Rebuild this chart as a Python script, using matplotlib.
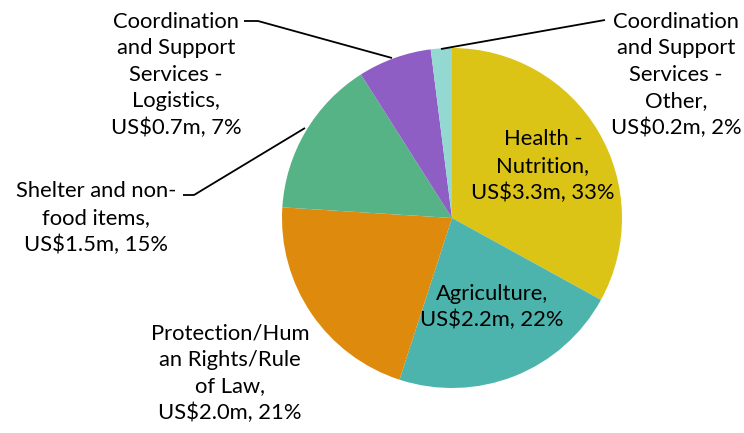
import matplotlib.pyplot as plt

# funding by sector (share of total, %)
sectors = ["Health - Nutrition", "Agriculture", "Protection/Human Rights/Rule of Law",
           "Shelter and non-food items", "Coordination and Support Services - Logistics",
           "Coordination and Support Services - Other"]
amounts = ["US$3.3m", "US$2.2m", "US$2.0m", "US$1.5m", "US$0.7m", "US$0.2m"]
shares = [33, 22, 21, 15, 7, 2]
colors = ["#DCC417", "#4CB4AC", "#DE8A0C", "#56B385", "#8E5EC4", "#94D8D2"]

W, H = 744, 433
fig = plt.figure(figsize=(W / 100, H / 100), dpi=100)
ax = fig.add_axes([0, 0, 1, 1])

ax.pie(shares, colors=colors, startangle=90, counterclock=False,
       center=(452, H - 218), radius=170, frame=True,
       wedgeprops=dict(linewidth=0))
ax.set_xlim(0, W)
ax.set_ylim(0, H)
ax.set_aspect("equal")
ax.axis("off")

font = dict(family="Lato", fontsize=15.8, color="black", ha="center", va="center",
            linespacing=1.4)

def lab(x, y, txt):
    ax.text(x, H - y, txt, **font)

lab(543, 166, "Health -\nNutrition,\n%s, %d%%" % (amounts[0], shares[0]))
lab(492, 307, "Agriculture,\n%s, %d%%" % (amounts[1], shares[1]))
lab(230, 373, "Protection/Hum\nan Rights/Rule\nof Law,\n%s, %d%%" % (amounts[2], shares[2]))
lab(96, 218, "Shelter and non-\nfood items,\n%s, %d%%" % (amounts[3], shares[3]))
lab(176, 75, "Coordination\nand Support\nServices -\nLogistics,\n%s, %d%%" % (amounts[4], shares[4]))
lab(676, 75, "Coordination\nand Support\nServices -\nOther,\n%s, %d%%" % (amounts[5], shares[5]))

# leader lines
def leader(pts):
    xs = [p[0] for p in pts]
    ys = [H - p[1] for p in pts]
    ax.plot(xs, ys, color="black", lw=1.3, solid_capstyle="butt")

leader([(244, 21), (258, 21), (392, 58)])
leader([(441, 49), (605, 20)])
leader([(183, 195), (194, 195), (305, 128)])

fig.savefig("out.png", dpi=100)
